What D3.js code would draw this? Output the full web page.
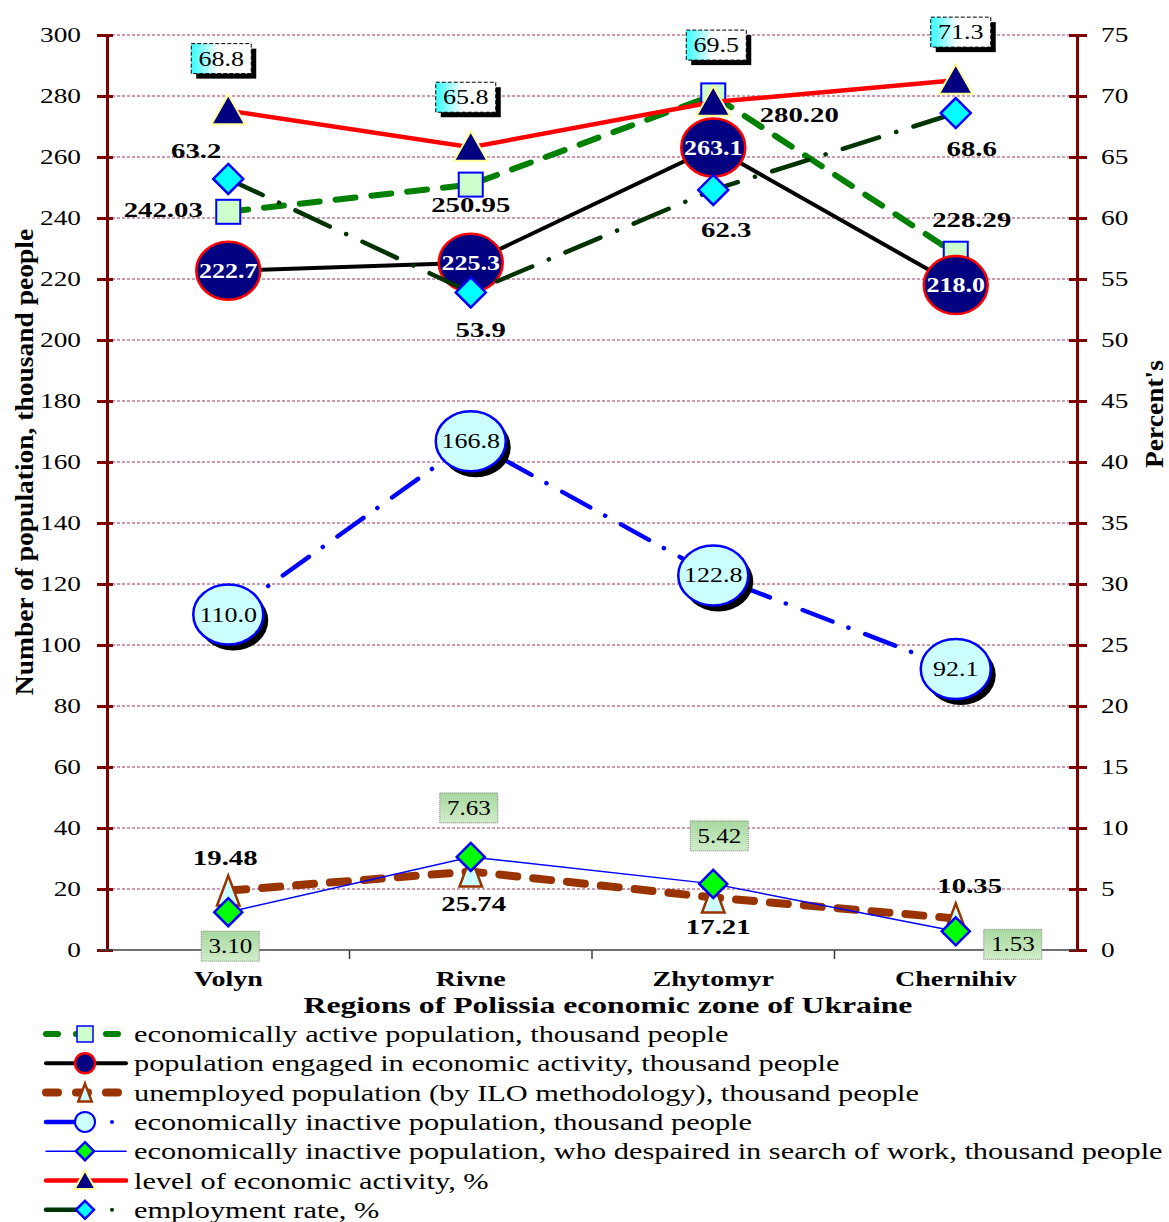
<!DOCTYPE html>
<html>
<head>
<meta charset="utf-8">
<script src="https://cdn.jsdelivr.net/npm/d3@7/dist/d3.min.js"></script>
<style>
  body { margin: 0; background: #fff; }
  svg text { font-family: "Liberation Serif", "Times New Roman", serif; }
</style>
</head>
<body>
<svg id="chart" width="1169" height="1222"></svg>
<script>
// data
var regions = ["Volyn", "Rivne", "Zhytomyr", "Chernihiv"];
var activePop = [242.03, 250.95, 280.20, 228.29];
var engagedPop = [222.7, 225.3, 263.1, 218.0];
var unemployedPop = [19.48, 25.74, 17.21, 10.35];
var inactivePop = [110.0, 166.8, 122.8, 92.1];
var despairedPop = [3.10, 7.63, 5.42, 1.53];
var activityLevel = [68.8, 65.8, 69.5, 71.3];
var employmentRate = [63.2, 53.9, 62.3, 68.6];
var leftTicks = [0, 20, 40, 60, 80, 100, 120, 140, 160, 180, 200, 220, 240, 260, 280, 300];
var rightTicks = [0, 5, 10, 15, 20, 25, 30, 35, 40, 45, 50, 55, 60, 65, 70, 75];
var legendLabels = [
  "economically active population, thousand people",
  "population engaged in economic activity, thousand people",
  "unemployed population (by ILO methodology), thousand people",
  "economically inactive population, thousand people",
  "economically inactive population, who despaired in search of work, thousand people",
  "level of economic activity, %",
  "employment rate, %"
];
var leftTitle = "Number of population, thousand people";
var rightTitle = "Percent's";
var xTitle = "Regions of Polissia economic zone of Ukraine";

var svg = d3.select("#chart");
var margin = {left: 107, right: 1077, top: 35, bottom: 950};

var x = d3.scaleBand().domain(regions).range([margin.left, margin.right]);
var cx = function(i){ return x(regions[i]) + x.bandwidth() / 2; };
var yL = d3.scaleLinear().domain([0, 300]).range([margin.bottom, margin.top]);
var yR = d3.scaleLinear().domain([0, 75]).range([margin.bottom, margin.top]);

// stretch text horizontally, the source glyphs are wide
function widen(sel, k){
  sel.each(function(){
    var w = this.getComputedTextLength();
    d3.select(this).attr("textLength", w * k).attr("lengthAdjust", "spacingAndGlyphs");
  });
}

var defs = svg.append("defs");
var gCyan = defs.append("linearGradient").attr("id", "gCyan");
gCyan.append("stop").attr("offset", "0%").attr("stop-color", "#33ffff");
gCyan.append("stop").attr("offset", "45%").attr("stop-color", "#ffffff");
gCyan.append("stop").attr("offset", "100%").attr("stop-color", "#ffffff");
var gGreen = defs.append("linearGradient").attr("id", "gGreen").attr("x1", 0).attr("x2", 0).attr("y1", 0).attr("y2", 1);
gGreen.append("stop").attr("offset", "0%").attr("stop-color", "#a8d8a0");
gGreen.append("stop").attr("offset", "100%").attr("stop-color", "#d0ecc8");

// grid
svg.append("g").selectAll("line").data(leftTicks.filter(function(d){ return d > 0; }))
  .enter().append("line")
  .attr("x1", margin.left).attr("x2", margin.right)
  .attr("y1", function(d){ return yL(d); }).attr("y2", function(d){ return yL(d); })
  .attr("stroke", "#993366").attr("stroke-width", 1).attr("stroke-dasharray", "3,2");

// axes
var axisColor = "#800000";
var leftAxis = svg.append("g").attr("transform", "translate(" + margin.left + ",0)")
  .call(d3.axisLeft(yL).tickValues(leftTicks).tickSize(10).tickSizeOuter(0).tickPadding(16));
var rightAxis = svg.append("g").attr("transform", "translate(" + margin.right + ",0)")
  .call(d3.axisRight(yR).tickValues(rightTicks).tickSize(10).tickSizeOuter(0).tickPadding(14));
[leftAxis, rightAxis].forEach(function(a){
  a.attr("font-family", null);
  a.select(".domain").attr("stroke", axisColor).attr("stroke-width", 3);
  a.selectAll(".tick line").attr("stroke", axisColor).attr("stroke-width", 3);
  a.selectAll(".tick text").attr("font-size", 21).attr("fill", "#000").call(widen, 1.3);
});
leftAxis.selectAll(".tick").append("line").attr("x2", 6).attr("stroke", axisColor).attr("stroke-width", 3);
rightAxis.selectAll(".tick").append("line").attr("x2", -8).attr("stroke", axisColor).attr("stroke-width", 3);

// x axis
svg.append("line").attr("x1", margin.left - 8).attr("x2", margin.right)
  .attr("y1", margin.bottom).attr("y2", margin.bottom)
  .attr("stroke", "#404040").attr("stroke-width", 1.5);
svg.append("g").selectAll("line").data(regions.slice(1)).enter().append("line")
  .attr("x1", function(d){ return x(d); }).attr("x2", function(d){ return x(d); })
  .attr("y1", margin.bottom).attr("y2", margin.bottom + 9)
  .attr("stroke", "#404040").attr("stroke-width", 1.5);
svg.append("g").selectAll("text").data(regions).enter().append("text")
  .attr("x", function(d, i){ return cx(i); }).attr("y", 986)
  .attr("text-anchor", "middle").attr("font-size", 20).attr("font-weight", "bold")
  .text(function(d){ return d; }).call(widen, 1.4);

svg.append("text").attr("x", 608).attr("y", 1013).attr("text-anchor", "middle")
  .attr("font-size", 24).attr("font-weight", "bold").text(xTitle).call(widen, 1.32);
svg.append("text").attr("transform", "translate(33,462) rotate(-90)").attr("text-anchor", "middle")
  .attr("font-size", 25).attr("font-weight", "bold").text(leftTitle).call(widen, 1.1);
svg.append("text").attr("transform", "translate(1163,414) rotate(-90)").attr("text-anchor", "middle")
  .attr("font-size", 25).attr("font-weight", "bold").text(rightTitle).call(widen, 1.1);

// marker painters
var markers = {
  square: function(g, c){
    g.append("rect").attr("x", -12).attr("y", -12).attr("width", 24).attr("height", 24)
      .attr("fill", "#ccffcc").attr("stroke", "#0000ff").attr("stroke-width", c.sw || 2);
  },
  bigDot: function(g, c){
    g.append("ellipse").attr("rx", c.rx || 32).attr("ry", c.ry || 29)
      .attr("fill", "#000080").attr("stroke", "#ff0000").attr("stroke-width", 2.5);
  },
  triOpen: function(g, c){
    var s = c.s || 15;
    g.append("path").attr("d", "M0," + (-s) + "L" + s * 0.75 + "," + s + "L" + (-s * 0.75) + "," + s + "Z")
      .attr("fill", "#ccffff").attr("stroke", "#993300").attr("stroke-width", 2.5);
  },
  bubble: function(g, c){
    var rx = c.rx || 35, ry = c.ry || 30;
    g.append("ellipse").attr("cx", 5).attr("cy", 6).attr("rx", rx).attr("ry", ry).attr("fill", "#000");
    g.append("ellipse").attr("rx", rx).attr("ry", ry)
      .attr("fill", "#ccffff").attr("stroke", "#0000ff").attr("stroke-width", 2.5);
  },
  diamondGreen: function(g, c){
    var s = c.s || 14;
    g.append("path").attr("d", "M0," + (-s) + "L" + s + ",0L0," + s + "L" + (-s) + ",0Z")
      .attr("fill", "#00ff00").attr("stroke", "#0000ff").attr("stroke-width", 2.5);
  },
  triNavy: function(g, c){
    var s = c.s || 16;
    g.append("path").attr("d", "M0," + (-s) + "L" + s * 1.05 + "," + s * 0.85 + "L" + (-s * 1.05) + "," + s * 0.85 + "Z")
      .attr("fill", "#000080").attr("stroke", "#ffff99").attr("stroke-width", 2);
  },
  diamondCyan: function(g, c){
    var s = c.s || 15;
    g.append("path").attr("d", "M0," + (-s) + "L" + s + ",0L0," + s + "L" + (-s) + ",0Z")
      .attr("fill", "#00ffff").attr("stroke", "#0000ff").attr("stroke-width", 2.5);
  }
};

var series = [
  {values: activePop, y: yL, color: "#008000", width: 6, dash: "20,16", cap: "round", marker: "square", fmt: ".2f",
   label: "plain", off: [[-65, 5], [0, 27], [86, 27], [16, -27]]},
  {values: engagedPop, y: yL, color: "#000000", width: 4, dash: null, marker: "bigDot", fmt: ".1f",
   label: "inside", color2: "#ffffff", bold: true, off: [[0, 7], [0, 7], [0, 7], [0, 7]]},
  {values: unemployedPop, y: yL, color: "#993300", width: 8, dash: "18,16", cap: "round", marker: "triOpen", fmt: ".2f",
   label: "plain", off: [[-3, -26], [3, 40], [5, 36], [14, -25]]},
  {values: inactivePop, y: yL, color: "#0000ff", width: 4.5, dash: "32,17,0.1,18", cap: "round", marker: "bubble", fmt: ".1f",
   label: "inside", color2: "#000000", bold: false, off: [[0, 7], [0, 7], [0, 7], [0, 7]]},
  {values: despairedPop, y: yR, color: "#0000ff", width: 1.5, dash: null, marker: "diamondGreen", fmt: ".2f",
   label: "greenBox", off: [[2, 34], [-2, -49], [6, -48], [57, 13]]},
  {values: activityLevel, y: yR, color: "#ff0000", width: 4.5, dash: null, marker: "triNavy", fmt: ".1f",
   label: "cyanBox", off: [[-7, -52], [-5, -50], [3, -57], [5, -48]]},
  {values: employmentRate, y: yR, color: "#003300", width: 4.5, dash: "38,18,0.1,18", cap: "round", marker: "diamondCyan", fmt: ".1f",
   label: "plain", off: [[-32, -21], [10, 45], [13, 47], [16, 43]]}
];

var line = d3.line();

series.forEach(function(s){
  var pts = s.values.map(function(v, i){ return [cx(i), s.y(v)]; });
  svg.append("path").attr("d", line(pts)).attr("fill", "none")
    .attr("stroke", s.color).attr("stroke-width", s.width)
    .attr("stroke-dasharray", s.dash).attr("stroke-linecap", s.cap || "butt");
  pts.forEach(function(p){
    var g = svg.append("g").attr("transform", "translate(" + p[0] + "," + p[1] + ")");
    markers[s.marker](g, {});
  });
});

// data labels on top
var labelG = svg.append("g");
series.forEach(function(s){
  var f = d3.format(s.fmt);
  s.values.forEach(function(v, i){
    var px = cx(i) + s.off[i][0], py = s.y(v) + s.off[i][1];
    if(s.label == "plain"){
      labelG.append("text").attr("x", px).attr("y", py).attr("text-anchor", "middle")
        .attr("font-size", 21).attr("font-weight", "bold").text(f(v)).call(widen, 1.37);
    }else if(s.label == "inside"){
      labelG.append("text").attr("x", px).attr("y", py).attr("text-anchor", "middle")
        .attr("font-size", 20).attr("font-weight", s.bold ? "bold" : "normal")
        .attr("fill", s.color2).text(f(v)).call(widen, 1.3);
    }else if(s.label == "cyanBox"){
      var bw = 60, bh = 30;
      labelG.append("rect").attr("x", px - bw / 2 + 5).attr("y", py - bh / 2 + 5)
        .attr("width", bw).attr("height", bh).attr("fill", "#000");
      labelG.append("rect").attr("x", px - bw / 2).attr("y", py - bh / 2)
        .attr("width", bw).attr("height", bh).attr("fill", "url(#gCyan)")
        .attr("stroke", "#000").attr("stroke-width", 1).attr("stroke-dasharray", "4,2");
      labelG.append("text").attr("x", px).attr("y", py + 7).attr("text-anchor", "middle")
        .attr("font-size", 20).text(f(v)).call(widen, 1.3);
    }else if(s.label == "greenBox"){
      var gw = 58, gh = 30;
      labelG.append("rect").attr("x", px - gw / 2).attr("y", py - gh / 2)
        .attr("width", gw).attr("height", gh).attr("fill", "url(#gGreen)")
        .attr("stroke", "#808080").attr("stroke-width", 1).attr("stroke-dasharray", "1,1");
      labelG.append("text").attr("x", px).attr("y", py + 7).attr("text-anchor", "middle")
        .attr("font-size", 20).text(f(v)).call(widen, 1.25);
    }
  });
});

// legend
var legend = svg.append("g");
var small = {
  square: {}, bigDot: {rx: 10, ry: 10}, triOpen: {s: 9}, bubble: {rx: 10, ry: 10},
  diamondGreen: {s: 9}, triNavy: {s: 10}, diamondCyan: {s: 9}
};
legendLabels.forEach(function(lbl, i){
  var s = series[i];
  var ly = 1034 + i * 29.3;
  var row = legend.append("g").attr("transform", "translate(0," + ly + ")");
  if(i == 3 || i == 6){
    row.append("line").attr("x1", 46).attr("x2", 80).attr("stroke", s.color).attr("stroke-width", s.width).attr("stroke-linecap", "round");
    row.append("circle").attr("cx", 112).attr("r", 2).attr("fill", s.color);
  }else{
    row.append("line").attr("x1", 46).attr("x2", 126).attr("stroke", s.color).attr("stroke-width", s.width)
      .attr("stroke-dasharray", s.dash ? "12,18" : null).attr("stroke-linecap", s.cap || "round");
  }
  var m = row.append("g").attr("transform", "translate(85,0)");
  if(s.marker == "bubble"){
    m.append("circle").attr("r", 10).attr("fill", "#ccffff").attr("stroke", "#0000ff").attr("stroke-width", 2);
  }else if(s.marker == "square"){
    m.append("rect").attr("x", -8).attr("y", -8).attr("width", 16).attr("height", 16)
      .attr("fill", "#ccffcc").attr("stroke", "#0000ff").attr("stroke-width", 1.5);
  }else{
    markers[s.marker](m, small[s.marker]);
  }
  row.append("text").attr("x", 134).attr("y", 8).attr("font-size", 23).text(lbl).call(widen, 1.32);
});
</script>
</body>
</html>
